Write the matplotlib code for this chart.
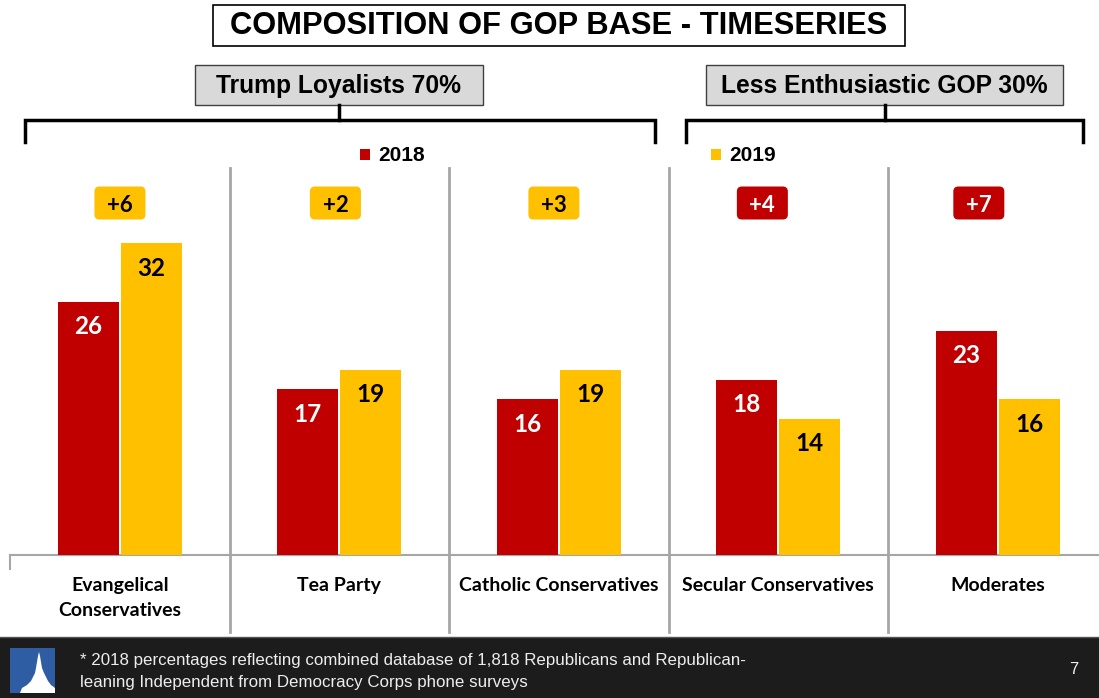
import matplotlib
matplotlib.use('Agg')
import matplotlib.pyplot as plt
import numpy as np
from matplotlib.patches import Rectangle, FancyBboxPatch, Polygon
from matplotlib.lines import Line2D
from matplotlib.transforms import Affine2D, ScaledTranslation, blended_transform_factory

# ---------------- data ----------------
title = 'COMPOSITION OF GOP BASE - TIMESERIES'
group_labels = ['Trump Loyalists 70%', 'Less Enthusiastic GOP 30%']
categories = ['Evangelical\nConservatives', 'Tea Party', 'Catholic Conservatives',
              'Secular Conservatives', 'Moderates']
years = ['2018', '2019']
values_2018 = [26, 17, 16, 18, 23]
values_2019 = [32, 19, 19, 14, 16]
footnote = ('* 2018 percentages reflecting combined database of 1,818 Republicans and Republican-\n'
            'leaning Independent from Democracy Corps phone surveys')
page_number = '7'

# ---------------- style ----------------
RED = '#C00000'
YEL = '#FFC000'
GRID = '#A6A6A6'
ARIAL = ['Liberation Sans', 'DejaVu Sans']
CAL = ['Lato', 'DejaVu Sans']
BADGE_SHIFT_PX = [0, -4, -5, -16, -19]   # badges sit slightly left of category centre

W, H, DPI = 1099, 698, 100
fig = plt.figure(figsize=(W / DPI, H / DPI), dpi=DPI)
fig.patch.set_facecolor('white')
# top-left pixel coordinate transform for decorations
px = Affine2D().scale(1, -1).translate(0, H).scale(1 / DPI) + fig.dpi_scale_trans
pxs = Affine2D().scale(1, -1).scale(1 / DPI) + fig.dpi_scale_trans

# ---------------- main axes ----------------
base_y, top_y = 555, 168
ppu = 9.75
ax = fig.add_axes([10 / W, (H - base_y) / H, (W - 10) / W, (base_y - top_y) / H])
ax.set_xlim(-0.501, 4.461)
ax.set_ylim(0, (base_y - top_y) / ppu)
ax.axis('off')

x = np.arange(len(categories))
bw = 0.278
off = 0.1435
ax.bar(x - off, values_2018, bw, color=RED, label=years[0], zorder=3)
ax.bar(x + off, values_2019, bw, color=YEL, label=years[1], zorder=3)

for xi, v in zip(x, values_2018):
    ax.annotate(f'{v}', (xi - off, v), xytext=(0, -25), textcoords='offset pixels',
                ha='center', va='center', fontsize=17.5, fontweight='bold',
                color='white', family=CAL, zorder=4)
for xi, v in zip(x, values_2019):
    ax.annotate(f'{v}', (xi + off, v), xytext=(0, -25), textcoords='offset pixels',
                ha='center', va='center', fontsize=17.5, fontweight='bold',
                color='black', family=CAL, zorder=4)

# change badges
badge_y = (base_y - 203) / ppu
for xi, a, b, sh in zip(x, values_2018, values_2019, BADGE_SHIFT_PX):
    d = b - a
    fc = YEL if d > 0 else RED
    tc = 'black' if d > 0 else 'white'
    tr = pxs + ScaledTranslation(xi, badge_y, ax.transData)
    patch = FancyBboxPatch((sh - 25.5, -16.5), 51, 33,
                           boxstyle='round,pad=0,rounding_size=5',
                           facecolor=fc, edgecolor='none', transform=tr, clip_on=False)
    ax.add_patch(patch)
    ax.annotate(f'+{abs(d)}', (xi, badge_y), xytext=(sh, -2), textcoords='offset pixels',
                ha='center', va='center', fontsize=16, fontweight='bold',
                color=tc, family=CAL, annotation_clip=False)

# category labels
for xi, c in zip(x, categories):
    ax.annotate(c, (xi, 0), xytext=(0, -22), textcoords='offset pixels',
                ha='center', va='top', fontsize=14, fontweight='bold',
                family=CAL, linespacing=1.55)

# baseline and separators
ax.axhline(0, color=GRID, lw=1.5, zorder=2, clip_on=False)
fig.add_artist(Line2D([10, 10], [555, 569], color=GRID, lw=1.5, transform=px))
bt = blended_transform_factory(ax.transData, px)
for s in x[:-1] + 0.5:
    fig.add_artist(Line2D([s, s], [168, 632], color=GRID, lw=2, transform=bt))

# ---------------- title & group headers ----------------
fig.add_artist(Rectangle((213, 5), 692, 41, facecolor='white', edgecolor='black',
                         lw=1.2, transform=px))
fig.text(559, 26, title, transform=px, ha='center', va='center', fontsize=22.2,
         fontweight='bold', family=ARIAL)

groups = [((195, 483), 25, 655, 339), ((706, 1063), 686, 1083, 885)]
for (bx0, bx1), lx0, lx1, stem, lab in [(g[0], g[1], g[2], g[3], l) for g, l in zip(groups, group_labels)]:
    fig.add_artist(Rectangle((bx0, 65), bx1 - bx0, 40, facecolor='#D9D9D9',
                             edgecolor='#404040', lw=1.0, transform=px))
    fig.text((bx0 + bx1) / 2, 86, lab, transform=px, ha='center', va='center',
             fontsize=17.7, fontweight='bold', family=ARIAL)
    fig.add_artist(Line2D([lx0, lx0, lx1, lx1], [142, 120, 120, 142], color='black',
                          lw=2.5, transform=px, solid_joinstyle='miter'))
    fig.add_artist(Line2D([stem, stem], [105, 120], color='black', lw=2.5, transform=px))

# legend (manual, split across the header)
for (lx, col), yr in zip([(360, RED), (711, YEL)], years):
    fig.add_artist(Rectangle((lx, 149), 10, 11, facecolor=col, edgecolor='none', transform=px))
    fig.text(lx + 18, 155.5, yr, transform=px, ha='left', va='center', fontsize=15,
             fontweight='bold', family=ARIAL)

# ---------------- footer ----------------
fig.add_artist(Rectangle((0, 637), W, H - 637, facecolor='#1C1C1C', edgecolor='none',
                         transform=px))
fig.add_artist(Line2D([0, W], [637, 637], color='#555555', lw=1, transform=px))
fig.add_artist(Rectangle((10, 648), 45, 45, facecolor='#2E5DA3', edgecolor='none', transform=px))
logo = [(20, 693), (22, 688), (27, 685), (31, 681), (33, 677), (35, 673), (36, 668),
        (37, 662), (38, 656), (39, 652), (40, 656), (41, 662), (42, 668), (44, 673),
        (46, 677), (48, 681), (51, 685), (55, 688), (55, 693)]
fig.add_artist(Polygon(logo, closed=True, facecolor='white', edgecolor='none', transform=px))
fig.text(80, 671.5, footnote, transform=px, ha='left', va='center', fontsize=12.2,
         color='#EEEEEE', family=ARIAL, linespacing=1.62)
fig.text(1074, 669, page_number, transform=px, ha='center', va='center', fontsize=12,
         color='#EEEEEE', family=ARIAL)

fig.savefig('out.png', dpi=DPI)
